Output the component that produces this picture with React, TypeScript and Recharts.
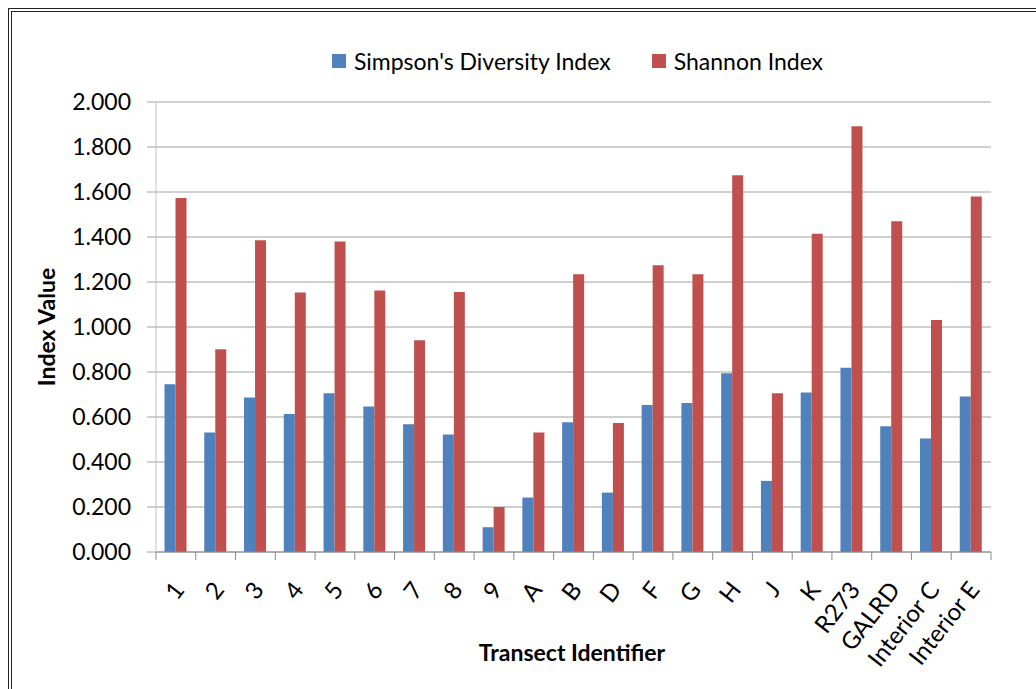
import React from 'react';
import { BarChart, Bar, XAxis, YAxis, CartesianGrid } from 'recharts';

const categories = ['1', '2', '3', '4', '5', '6', '7', '8', '9', 'A', 'B', 'D', 'F', 'G', 'H', 'J', 'K', 'R273', 'GALRD', 'Interior C', 'Interior E'];
const simpson = [0.746, 0.531, 0.687, 0.613, 0.706, 0.647, 0.568, 0.522, 0.110, 0.242, 0.577, 0.264, 0.653, 0.662, 0.794, 0.316, 0.709, 0.819, 0.559, 0.504, 0.691];
const shannon = [1.573, 0.901, 1.386, 1.153, 1.380, 1.162, 0.941, 1.156, 0.200, 0.531, 1.234, 0.573, 1.274, 1.234, 1.674, 0.706, 1.414, 1.892, 1.470, 1.031, 1.580];
const yTicks = [0, 0.2, 0.4, 0.6, 0.8, 1.0, 1.2, 1.4, 1.6, 1.8, 2.0];
const seriesNames = ["Simpson's Diversity Index", 'Shannon Index'];
const seriesColors = ['#4F81BD', '#C0504D'];

const data = categories.map((c, i) => ({ name: c, simpson: simpson[i], shannon: shannon[i] }));

const FONT = 'Lato, "Open Sans", sans-serif';
const W = 1028;
const H = 681;

const XTick = (props: any) => {
  const { x, y, payload, index, visibleTicksCount, width } = props;
  const count = visibleTicksCount || categories.length;
  const half = payload && payload.offset != null ? payload.offset : width / (2 * count);
  const isLast = index === count - 1;
  return (
    <g>
      <line x1={x - half} x2={x - half} y1={y} y2={y + 8} stroke="#8c8c8c" strokeWidth={1} />
      {isLast && <line x1={x + half} x2={x + half} y1={y} y2={y + 8} stroke="#8c8c8c" strokeWidth={1} />}
      <text
        x={x + 3}
        y={y + 33}
        dy="0.35em"
        textAnchor="end"
        transform={`rotate(-52, ${x + 3}, ${y + 33})`}
        fontSize={24}
        fontFamily={FONT}
        fill="#000"
      >
        {payload.value}
      </text>
    </g>
  );
};

export default function App() {
  return (
    <div style={{ position: 'relative', width: 1036, height: 689, overflow: 'hidden', background: '#fff' }}>
      <style>{`html, body { margin: 0; padding: 0; overflow: hidden; }`}</style>
      <div style={{ position: 'absolute', left: 8, top: 8, width: W, height: H, fontFamily: FONT }}>
        <div
          style={{
            position: 'absolute',
            left: 0,
            top: 0,
            width: W,
            height: H,
            boxSizing: 'border-box',
            borderTop: '4px double #222',
            borderLeft: '4px double #222',
            pointerEvents: 'none',
          }}
        />
        <BarChart
          width={W}
          height={H}
          data={data}
          margin={{ top: 94, right: 45, left: 0, bottom: 0 }}
          barCategoryGap="21.4%"
          barGap={0}
        >
          <CartesianGrid vertical={false} stroke="#a0a0a0" strokeWidth={1} />
          <XAxis
            dataKey="name"
            height={137}
            interval={0}
            tickSize={0}
            tickMargin={0}
            tickLine={false}
            axisLine={{ stroke: '#8c8c8c' }}
            tick={<XTick />}
          />
          <YAxis
            width={148}
            domain={[0, 2]}
            ticks={yTicks}
            interval={0}
            tickSize={9}
            tickMargin={16}
            tickFormatter={(v: number) => v.toFixed(3)}
            axisLine={{ stroke: '#c4c4c4' }}
            tickLine={{ stroke: '#a0a0a0' }}
            tick={{ fontSize: 23, fontFamily: FONT, fill: '#000' }}
          />
          <Bar dataKey="simpson" name={seriesNames[0]} fill={seriesColors[0]} isAnimationActive={false} />
          <Bar dataKey="shannon" name={seriesNames[1]} fill={seriesColors[1]} isAnimationActive={false} />
        </BarChart>
        <div
          style={{
            position: 'absolute',
            left: 152,
            width: 835,
            top: 41,
            height: 23,
            display: 'flex',
            justifyContent: 'center',
            alignItems: 'center',
            gap: 41,
            fontSize: 23,
            color: '#000',
          }}
        >
          {seriesNames.map((n, i) => (
            <div key={n} style={{ display: 'flex', alignItems: 'center', gap: 8 }}>
              <div style={{ width: 14, height: 14, background: seriesColors[i] }} />
              <span style={{ whiteSpace: 'nowrap' }}>{n}</span>
            </div>
          ))}
        </div>
        <div
          style={{
            position: 'absolute',
            left: 38,
            top: 319,
            transform: 'translate(-50%, -50%) rotate(-90deg)',
            fontSize: 23,
            fontWeight: 'bold',
            whiteSpace: 'nowrap',
            color: '#000',
          }}
        >
          Index Value
        </div>
        <div
          style={{
            position: 'absolute',
            left: 564,
            top: 644,
            transform: 'translate(-50%, -50%)',
            fontSize: 23,
            fontWeight: 'bold',
            whiteSpace: 'nowrap',
            color: '#000',
          }}
        >
          Transect Identifier
        </div>
      </div>
    </div>
  );
}
